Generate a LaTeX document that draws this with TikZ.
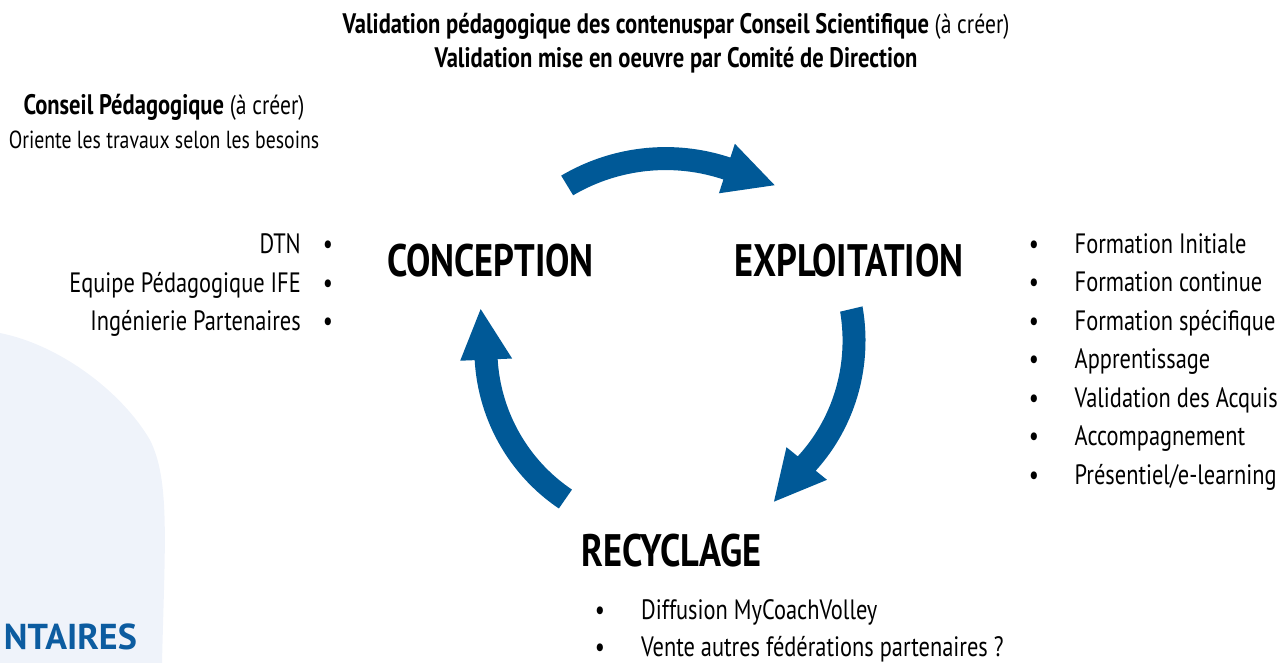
\documentclass[tikz,border=0pt]{standalone}
\usepackage{fontspec}
\setmainfont{PT Sans}[FakeStretch=0.8]
\newfontfamily\widefont{PT Sans}
\definecolor{arrowblue}{RGB}{0,89,151}
\definecolor{titleblue}{RGB}{12,92,160}
\definecolor{blobfill}{RGB}{239,243,250}
\newcommand\cyclearrow[6]{%
\fill[arrowblue]
 plot[domain=0:1,samples=40,variable=\t] ({668+(#2+(#4-#2)*\t+11.5)*cos(#1+(#3-#1)*\t)},{352-(#2+(#4-#2)*\t+11.5)*sin(#1+(#3-#1)*\t)})
 -- ({668+(#4+26)*cos(#3)},{352-(#4+26)*sin(#3)})
 -- ({668+#6*cos(#5)},{352-#6*sin(#5)})
 -- ({668+(#4-26)*cos(#3)},{352-(#4-26)*sin(#3)})
 -- plot[domain=1:0,samples=40,variable=\t] ({668+(#2+(#4-#2)*\t-11.5)*cos(#1+(#3-#1)*\t)},{352-(#2+(#4-#2)*\t-11.5)*sin(#1+(#3-#1)*\t)})
 -- cycle;}
\tikzset{
  txt/.style={inner sep=0pt, font=\fontsize{28}{34}\selectfont},
  topline/.style={inner sep=0pt, anchor=base, font=\fontsize{28.2}{34}\selectfont\bfseries},
  phase/.style={inner sep=0pt, anchor=base, font=\fontsize{45.5}{54}\selectfont\bfseries},
  bul/.style={inner sep=0pt, anchor=base, font=\fontsize{28}{34}\selectfont},
}
\begin{document}
\begin{tikzpicture}[x=1pt,y=-1pt]
\useasboundingbox (0,0) rectangle (1284,663);
% background blob
\fill[blobfill] (0,333) .. controls (60,345) and (122,392) .. (150,440)
  .. controls (170,480) and (165,540) .. (162,663) -- (0,663) -- cycle;
\node[inner sep=0pt, anchor=base east, text=titleblue, font=\widefont\fontsize{36}{40}\selectfont\bfseries] (ntaires) at (137,649) {NTAIRES};

% top texts
\node[topline] (val1) at (676,34) {Validation pédagogique des contenuspar Conseil Scientifique {\mdseries\fontsize{27}{30}\selectfont (à créer)}};
\node[topline] (val2) at (676,68) {Validation mise en oeuvre par Comité de Direction};
\node[topline] (cons1) at (164,115) {Conseil Pédagogique {\mdseries\fontsize{27}{30}\selectfont (à créer)}};
\node[inner sep=0pt, anchor=base, font=\fontsize{24.7}{30}\selectfont] (cons2) at (164,149) {Oriente les travaux selon les besoins};

% cycle arrows
\coordinate (center) at (668,352);
\cyclearrow{121.2}{194.7}{72.2}{192.7}{57.4}{198}
\cyclearrow{13.2}{188.3}{-38.8}{178}{-54.7}{183.4}
\cyclearrow{235.1}{179.3}{182.4}{182}{167.1}{192.2}

% phases
\node[phase] (conception) at (490.5,276) {CONCEPTION};
\node[phase] (exploitation) at (849,276) {EXPLOITATION};
\node[phase] (recyclage) at (671.5,566) {RECYCLAGE};

% left list
\foreach \y/\t [count=\i] in {253/DTN, 292/Equipe Pédagogique IFE, 330/Ingénierie Partenaires}{
  \node[txt, anchor=base east] (l\i) at (301,\y) {\t};
  \node[bul] (lb\i) at (328,\y) {\textbullet};
}
% right list
\foreach \y/\t [count=\i] in {253/Formation Initiale, 291.5/Formation continue, 330/Formation spécifique, 368.5/Apprentissage, 407/Validation des Acquis, 445.5/Accompagnement, 484/Présentiel\slash e-learning}{
  \node[bul] (rb\i) at (1034,\y) {\textbullet};
  \node[txt, anchor=base west] (r\i) at (1074.5,\y) {\t};
}
% bottom list
\foreach \y/\t [count=\i] in {619/Diffusion MyCoachVolley, 656/Vente autres fédérations partenaires ?}{
  \node[bul] (bb\i) at (600,\y) {\textbullet};
  \node[txt, anchor=base west] (b\i) at (641,\y) {\t};
}
\end{tikzpicture}
\end{document}
